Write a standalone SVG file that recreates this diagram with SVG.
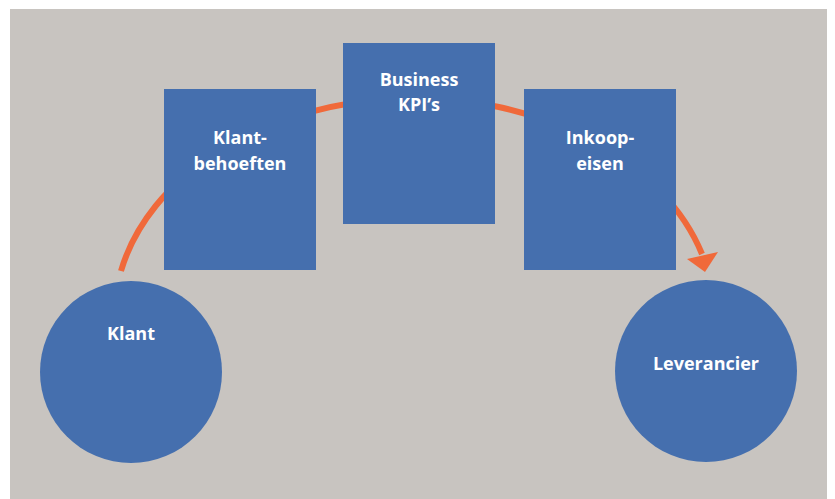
<svg xmlns="http://www.w3.org/2000/svg" width="835" height="499" viewBox="0 0 835 499">
<style>
.node{fill:#456FAE}
.lbl{fill:#FFFFFF;font-family:"Open Sans","Liberation Sans",sans-serif;font-weight:bold;font-size:18px;text-anchor:middle}
.conn{fill:none;stroke:#F0693A;stroke-width:6}
</style>
<rect x="0" y="0" width="835" height="499" fill="#FFFFFF"/>
<rect x="10" y="9" width="817" height="490" fill="#C8C4C0"/>
<g id="connectors">
<path class="conn" d="M121,271 A300,218 0 0 1 702,254"/>
<polygon points="687,259 718,252 705,272" fill="#F0693A"/>
</g>
<g id="klant">
<circle class="node" cx="131" cy="372" r="91"/>
<text class="lbl" x="131" y="340">Klant</text>
</g>
<g id="klantbehoeften">
<rect class="node" x="164" y="89" width="152" height="181"/>
<text class="lbl" x="240" y="144">Klant-</text>
<text class="lbl" x="240" y="170">behoeften</text>
</g>
<g id="business">
<rect class="node" x="343" y="43" width="152" height="181"/>
<text class="lbl" x="419" y="86">Business</text>
<text class="lbl" x="419" y="111">KPI’s</text>
</g>
<g id="inkoopeisen">
<rect class="node" x="524" y="89" width="152" height="181"/>
<text class="lbl" x="600" y="144">Inkoop-</text>
<text class="lbl" x="600" y="170">eisen</text>
</g>
<g id="leverancier">
<circle class="node" cx="706" cy="371" r="91"/>
<text class="lbl" x="706" y="370">Leverancier</text>
</g>
</svg>
